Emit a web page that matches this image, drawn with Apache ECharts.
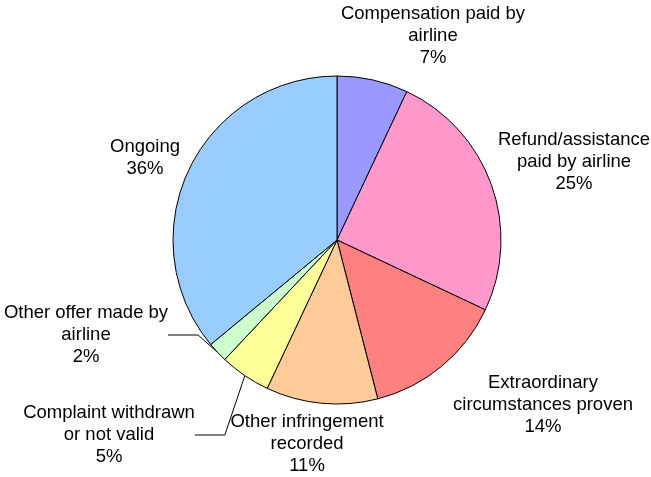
<!DOCTYPE html>
<html>
<head>
<meta charset="utf-8">
<script src="https://cdn.jsdelivr.net/npm/echarts@6/dist/echarts.min.js"></script>
<style>
  html, body { margin: 0; padding: 0; background: #fff; }
  #main { width: 651px; height: 477px; }
</style>
</head>
<body>
<div id="main"></div>
<script>
var categories = [
  'Compensation paid by\nairline',
  'Refund/assistance\npaid by airline',
  'Extraordinary\ncircumstances proven',
  'Other infringement\nrecorded',
  'Complaint withdrawn\nor not valid',
  'Other offer made by\nairline',
  'Ongoing'
]
var values = [7, 25, 14, 11, 5, 2, 36]
var colors = ['#9999FF', '#FF99CC', '#FF8080', '#FFCC99', '#FFFF99', '#CCFFCC', '#99CCFF']

// where each label block is centred (Excel-style placement)
var labelPos = [
  [433, 36], [574, 162], [543, 405], [307, 444], [109, 435], [86, 335], [145, 158]
]
var withLine = [false, false, false, false, true, true, false]

var myChart = echarts.init(document.getElementById('main'))

var option = {
  animation: false,
  series: {
    type: 'pie',
    center: [337, 240],
    radius: [0, 164],
    startAngle: 90,
    clockwise: true,
    itemStyle: { borderColor: '#000', borderWidth: 1 },
    label: {
      show: true,
      position: 'outside',
      formatter: '{b}\n{d}%',
      fontFamily: 'Liberation Sans, Arial, sans-serif',
      fontSize: 18.5,
      lineHeight: 22,
      color: '#000',
      align: 'center',
      overflow: 'none'
    },
    labelLine: {
      lineStyle: { color: '#000', width: 1 }
    },
    labelLayout: function (params) {
      var p = labelPos[params.dataIndex]
      return {
        x: p[0],
        y: p[1],
        align: 'center',
        verticalAlign: 'middle'
      }
    },
    data: categories.map(function (name, i) {
      return {
        name: name,
        value: values[i],
        itemStyle: { color: colors[i] },
        labelLine: { show: withLine[i] }
      }
    })
  }
}

myChart.setOption(option)
</script>
</body>
</html>
